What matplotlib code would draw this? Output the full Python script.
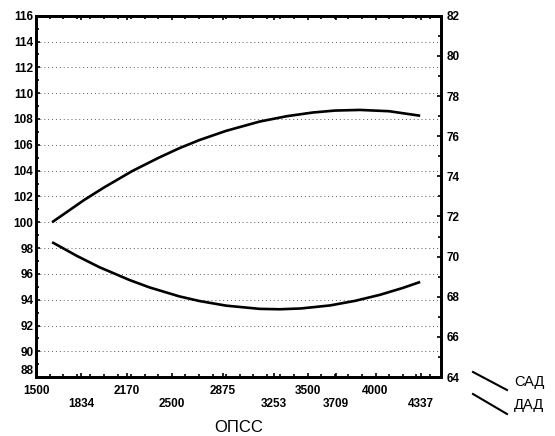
import matplotlib
matplotlib.use('Agg')
import matplotlib.pyplot as plt
from matplotlib.lines import Line2D
from matplotlib.ticker import MultipleLocator

plt.rcParams['font.family'] = ['Liberation Sans', 'DejaVu Sans']

# x axis (ОПСС) tick values, upper/lower rows alternate
xticks = [1500, 1834, 2170, 2500, 2875, 3253, 3500, 3709, 4000, 4337]

# САД curve (left axis)
sad_x = [1618, 1855, 2000, 2209, 2400, 2556, 2704, 2900, 3147, 3350, 3538, 3700, 3885, 4100, 4329]
sad_y = [100.0, 101.73, 102.69, 103.97, 104.98, 105.74, 106.37, 107.08, 107.8, 108.22, 108.5, 108.65, 108.7, 108.6, 108.25]

# ДАД curve (right axis)
dad_x = [1618, 1800, 1965, 2187, 2335, 2556, 2704, 2900, 3147, 3295, 3450, 3664, 3850, 4033, 4200, 4329]
dad_y = [70.72, 70.04, 69.48, 68.84, 68.47, 68.02, 67.79, 67.56, 67.4, 67.38, 67.42, 67.57, 67.8, 68.1, 68.44, 68.74]

fig = plt.figure(figsize=(5.55, 4.36), dpi=100)
ax = fig.add_axes([0.065, 0.135, 0.73, 0.829])
ax2 = ax.twinx()

ax.plot(sad_x, sad_y, color='black', lw=1.9, solid_capstyle='butt')
ax2.plot(dad_x, dad_y, color='black', lw=1.9, solid_capstyle='butt')

ax.set_xlim(1500, 4484)
ax.set_ylim(88, 116)
ax2.set_ylim(64, 82)

ax.set_yticks(range(88, 117, 2))
ax.yaxis.set_minor_locator(MultipleLocator(1))
ax2.set_yticks(range(64, 83, 2))
ax2.yaxis.set_minor_locator(MultipleLocator(1))

labels = []
for i, v in enumerate(xticks):
    labels.append(str(v) if i % 2 == 0 else '\n' + str(v))
ax.set_xticks(xticks)
ax.set_xticklabels(labels, fontsize=8.5, fontweight='bold', linespacing=1.1)
ax.xaxis.set_minor_locator(MultipleLocator(100))

# dotted grid at left major ticks
for v in range(90, 115, 2):
    ax.axhline(v, color='0.35', lw=0.7, ls=(0, (1, 3)), zorder=0)

for a in (ax, ax2):
    a.tick_params(which='both', direction='in', width=1.2)
    a.tick_params(which='major', length=3, labelsize=8.5)
    a.tick_params(which='minor', length=2)
    for s in a.spines.values():
        s.set_linewidth(2)
ax.tick_params(axis='x', which='both', top=True, pad=6)
ax.tick_params(axis='y', pad=2)
ax2.tick_params(axis='y', pad=4)
for t in ax.get_yticklabels() + ax2.get_yticklabels():
    t.set_fontweight('bold')
ax.get_yticklabels()[0].set_va('bottom')

ax.set_xlabel('ОПСС', fontsize=12, labelpad=7)

# legend marks at lower right
fig.add_artist(Line2D([473 / 555, 507 / 555], [1 - 372 / 436, 1 - 390 / 436],
                      transform=fig.transFigure, color='black', lw=1.5))
fig.add_artist(Line2D([473 / 555, 507 / 555], [1 - 394 / 436, 1 - 414 / 436],
                      transform=fig.transFigure, color='black', lw=1.5))
fig.text(514 / 555, 1 - 382 / 436, 'САД', fontsize=10.5, va='center', ha='left')
fig.text(514 / 555, 1 - 405 / 436, 'ДАД', fontsize=10.5, va='center', ha='left')

fig.savefig('out.png', dpi=100)
